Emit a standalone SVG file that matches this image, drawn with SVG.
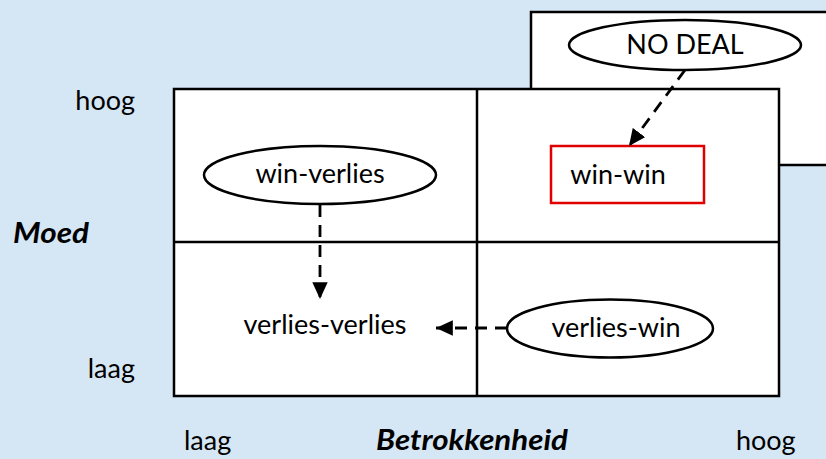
<svg xmlns="http://www.w3.org/2000/svg" width="826" height="459" viewBox="0 0 826 459">
<style>
text{font-family:Lato,"Liberation Sans",sans-serif;font-size:27px;fill:#000}
.c{text-anchor:middle}
.r{text-anchor:end}
.b{font-weight:bold;font-style:italic;font-size:28px}
.box{fill:#fff;stroke:#000;stroke-width:2.5}
.ell{fill:#fff;stroke:#000;stroke-width:2.5}
.dash{fill:none;stroke:#000;stroke-width:2.8;stroke-dasharray:12,8}
</style>
<defs>
<marker id="ah" viewBox="0 0 10 10" refX="10" refY="5" markerWidth="6" markerHeight="5.5" orient="auto" markerUnits="strokeWidth" preserveAspectRatio="none">
<path d="M0,0 L10,5 L0,10 z" fill="#000"/>
</marker>
</defs>
<rect width="826" height="459" fill="#D5E6F4"/>
<g id="backbox"><rect class="box" x="531" y="12" width="310" height="153"/></g>
<g id="grid">
<rect class="box" x="174" y="89" width="605" height="307"/>
<line x1="477" y1="89" x2="477" y2="396" stroke="#000" stroke-width="2.5"/>
<line x1="174" y1="242" x2="779" y2="242" stroke="#000" stroke-width="2.5"/>
</g>
<g id="nodeal"><ellipse class="ell" cx="685" cy="45" rx="116" ry="25"/><text class="c" x="685" y="54">NO DEAL</text></g>
<g id="winwin"><rect x="551" y="146" width="153" height="57" fill="#fff" stroke="#E00000" stroke-width="2.5"/><text class="c" x="618" y="184">win-win</text></g>
<g id="winverlies"><ellipse class="ell" cx="320" cy="175" rx="116" ry="29"/><text class="c" x="320" y="183">win-verlies</text></g>
<g id="verliesverlies"><text class="c" x="325" y="334">verlies-verlies</text></g>
<g id="verlieswin"><ellipse class="ell" cx="610" cy="328.5" rx="103" ry="29"/><text class="c" x="616" y="337">verlies-win</text></g>
<g id="connectors">
<line class="dash" x1="685" y1="70" x2="629" y2="146" marker-end="url(#ah)"/>
<line class="dash" x1="320" y1="205" x2="320" y2="299" marker-end="url(#ah)"/>
<line class="dash" x1="507" y1="328" x2="436" y2="328" marker-end="url(#ah)"/>
</g>
<g id="labels">
<text class="r" x="135" y="110">hoog</text>
<text class="b" x="13" y="243" textLength="76" lengthAdjust="spacingAndGlyphs">Moed</text>
<text class="r" x="135" y="378">laag</text>
<text x="184" y="450">laag</text>
<text class="b" x="376" y="450" textLength="192" lengthAdjust="spacingAndGlyphs">Betrokkenheid</text>
<text x="736" y="450">hoog</text>
</g>
</svg>
